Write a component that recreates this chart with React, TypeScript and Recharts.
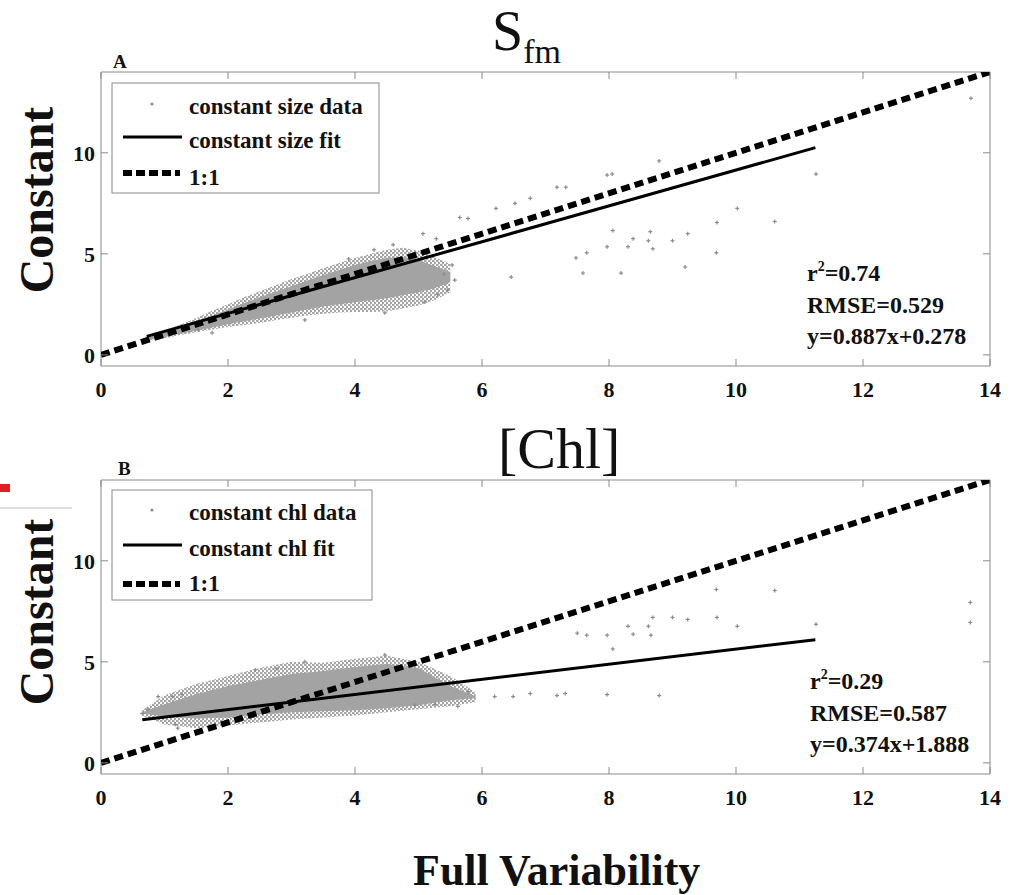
import React from 'react';
import { ComposedChart, Area, Scatter, XAxis, YAxis, ReferenceArea } from 'recharts';

const xTicks = [0, 2, 4, 6, 8, 10, 12, 14];
const yTicks = [0, 5, 10];
const X_DOMAIN: [number, number] = [0, 14];
const Y_DOMAIN: [number, number] = [-0.55, 14];

// Panel A: constant size. The point cloud is read as an outer (sparse) and a core (dense) envelope.
const sizeCloudX = [0.7, 1.0, 1.25, 1.5, 1.75, 2.0, 2.25, 2.5, 2.75, 3.0, 3.25, 3.5, 3.75, 4.0, 4.25, 4.5, 4.75, 5.0, 5.25, 5.5];
const sizeOuterLow = [0.66, 0.82, 0.98, 1.12, 1.26, 1.38, 1.48, 1.58, 1.72, 1.84, 1.95, 2.04, 2.1, 2.12, 2.12, 2.15, 2.3, 2.45, 2.7, 3.1];
const sizeOuterHigh = [0.9, 1.2, 1.5, 1.82, 2.18, 2.5, 2.85, 3.15, 3.45, 3.75, 4.0, 4.3, 4.55, 4.8, 5.0, 5.2, 5.3, 5.15, 4.85, 4.5];
const sizeCoreLow = [0.7, 0.88, 1.04, 1.2, 1.36, 1.52, 1.66, 1.8, 1.95, 2.1, 2.25, 2.4, 2.5, 2.6, 2.7, 2.8, 2.95, 3.1, 3.3, 3.6];
const sizeCoreHigh = [0.86, 1.12, 1.38, 1.65, 1.95, 2.25, 2.55, 2.85, 3.12, 3.4, 3.68, 3.95, 4.2, 4.45, 4.65, 4.8, 4.85, 4.7, 4.4, 4.1];
const sizePoints: [number, number][] = [
  [5.07, 6.0], [5.28, 5.75], [5.65, 6.8], [5.78, 6.75], [6.22, 7.25], [6.52, 7.5], [6.76, 7.75],
  [7.18, 8.3], [7.32, 8.3], [7.97, 8.9], [8.05, 8.95], [8.79, 9.6], [11.26, 8.95], [13.7, 12.7],
  [10.02, 7.25], [10.61, 6.6], [9.7, 6.55], [9.24, 6.0], [9.0, 5.65], [8.65, 6.1], [8.62, 5.65],
  [8.38, 5.75], [8.69, 5.25], [8.3, 5.35], [8.06, 6.15], [7.97, 5.35], [7.65, 5.05], [7.48, 4.8],
  [7.59, 4.05], [8.19, 4.05], [9.2, 4.35], [9.69, 5.05], [6.46, 3.85], [1.53, 1.24], [1.75, 1.09],
  [3.21, 1.73], [4.47, 2.08], [5.1, 2.62], [5.46, 3.2], [5.53, 4.45], [5.57, 3.7], [4.3, 5.2],
  [4.6, 5.45], [3.9, 4.75], [5.3, 3.0], [5.4, 4.0],
];
const sizeFit = { slope: 0.887, intercept: 0.278, from: 0.72, to: 11.25 };
const sizeLegend = ['constant size data', 'constant size fit', '1:1'];
const sizeStats = { r2: '0.74', rmse: '0.529', eq: 'y=0.887x+0.278' };

// Panel B: constant chl
const chlCloudX = [0.65, 1.0, 1.5, 2.0, 2.5, 3.0, 3.5, 4.0, 4.5, 5.0, 5.5, 5.9];
const chlOuterLow = [2.35, 1.9, 1.72, 1.85, 2.0, 2.15, 2.25, 2.35, 2.5, 2.65, 2.8, 3.0];
const chlOuterHigh = [2.6, 3.35, 3.9, 4.3, 4.7, 5.0, 4.95, 5.15, 5.3, 5.0, 4.3, 3.5];
const chlCoreLow = [2.45, 2.3, 2.2, 2.25, 2.4, 2.5, 2.55, 2.6, 2.7, 2.85, 3.1, 3.2];
const chlCoreHigh = [2.5, 2.9, 3.4, 3.8, 4.1, 4.4, 4.55, 4.75, 4.9, 4.7, 3.8, 3.3];
const chlPoints: [number, number][] = [
  [0.65, 2.45], [0.74, 2.65], [0.9, 3.28], [1.13, 3.28], [1.28, 3.38], [1.17, 1.91], [1.21, 1.72],
  [2.43, 4.6], [2.77, 4.66], [3.21, 5.0], [4.47, 5.34], [4.94, 2.85], [5.26, 2.9], [5.62, 2.8],
  [5.78, 3.53], [6.2, 3.28], [6.49, 3.28], [6.76, 3.43], [7.18, 3.33], [7.31, 3.43], [7.97, 3.38],
  [8.79, 3.33], [8.06, 5.64], [7.5, 6.42], [7.65, 6.32], [7.97, 6.32], [8.3, 6.76], [8.38, 6.37],
  [8.62, 6.76], [8.66, 6.32], [8.69, 7.2], [9.0, 7.2], [9.24, 7.1], [9.7, 7.2], [9.69, 8.58],
  [10.02, 6.76], [10.61, 8.53], [11.26, 6.86], [13.69, 7.94], [13.69, 6.95],
];
const chlFit = { slope: 0.374, intercept: 1.888, from: 0.65, to: 11.25 };
const chlLegend = ['constant chl data', 'constant chl fit', '1:1'];
const chlStats = { r2: '0.29', rmse: '0.587', eq: 'y=0.374x+1.888' };

const oneToOne = [0, 14];

const W = 1019;
const CHART_H = 406;
const MARGIN = { top: 72, right: 29, bottom: 0, left: 61 };
const PLOT_W = 889;
const PLOT_H = 294;
const AXIS = '#8a8a8a';
const SERIF = '"Liberation Serif", "Times New Roman", serif';

const BottomTick = (props: any) => {
  const { x, y, payload, plotHeight } = props;
  return (
    <g>
      <line x1={x} y1={y} x2={x} y2={y - 7} stroke={AXIS} />
      <line x1={x} y1={y - plotHeight} x2={x} y2={y - plotHeight + 7} stroke={AXIS} />
      <text x={x} y={y + 31} textAnchor="middle" fontFamily={SERIF} fontWeight="bold" fontSize={22} fill="#111">
        {payload.value}
      </text>
    </g>
  );
};

const LeftTick = (props: any) => {
  const { x, y, payload, plotWidth } = props;
  return (
    <g>
      <line x1={x} y1={y} x2={x + 7} y2={y} stroke={AXIS} />
      <line x1={x + plotWidth} y1={y} x2={x + plotWidth - 7} y2={y} stroke={AXIS} />
      <text x={x - 6} y={y} dy="0.36em" textAnchor="end" fontFamily={SERIF} fontWeight="bold" fontSize={22} fill="#111">
        {payload.value}
      </text>
    </g>
  );
};

const PlusMark = (props: any) => {
  const { cx, cy } = props;
  return (
    <g stroke="#8c8c8c" strokeWidth={1.2}>
      <line x1={cx - 2} y1={cy} x2={cx + 2} y2={cy} />
      <line x1={cx} y1={cy - 2} x2={cx} y2={cy + 2} />
    </g>
  );
};

const NoMark = () => <g />;

interface PanelProps {
  top: number;
  xs: number[];
  outerLow: number[];
  outerHigh: number[];
  coreLow: number[];
  coreHigh: number[];
  points: [number, number][];
  fit: { slope: number; intercept: number; from: number; to: number };
}

const Panel = ({ top, xs, outerLow, outerHigh, coreLow, coreHigh, points, fit }: PanelProps) => {
  const cloud = xs.map((x, i) => ({ x, outer: [outerLow[i], outerHigh[i]], core: [coreLow[i], coreHigh[i]] }));
  const pts = points.map(([x, y]) => ({ x, y }));
  const diag = oneToOne.map((v) => ({ x: v, y: v }));
  const fitPts = [fit.from, fit.to].map((x) => ({ x, y: fit.slope * x + fit.intercept }));
  return (
    <div style={{ position: 'absolute', left: 0, top }}>
      <ComposedChart width={W} height={CHART_H} data={cloud} margin={MARGIN}>
        <XAxis
          type="number"
          dataKey="x"
          domain={X_DOMAIN}
          ticks={xTicks}
          interval={0}
          height={40}
          axisLine={false}
          tickLine={false}
          tickSize={0}
          tickMargin={0}
          allowDataOverflow
          tick={<BottomTick plotHeight={PLOT_H} />}
        />
        <YAxis
          type="number"
          dataKey="y"
          domain={Y_DOMAIN}
          ticks={yTicks}
          interval={0}
          width={40}
          axisLine={false}
          tickLine={false}
          tickSize={0}
          tickMargin={0}
          allowDataOverflow
          tick={<LeftTick plotWidth={PLOT_W} />}
        />
        <ReferenceArea
          x1={X_DOMAIN[0]}
          x2={X_DOMAIN[1]}
          y1={Y_DOMAIN[0]}
          y2={Y_DOMAIN[1]}
          fill="none"
          fillOpacity={0}
          stroke={AXIS}
          strokeWidth={1}
          ifOverflow="visible"
        />
        <Area dataKey="outer" type="linear" stroke="none" fill="url(#speckle)" fillOpacity={1} dot={false} activeDot={false} isAnimationActive={false} />
        <Area dataKey="core" type="linear" stroke="none" fill="#a3a3a3" fillOpacity={1} dot={false} activeDot={false} isAnimationActive={false} />
        <Scatter data={pts} shape={PlusMark} fill="#8c8c8c" isAnimationActive={false} />
        <Scatter
          data={diag}
          shape={NoMark}
          fill="#000"
          line={{ stroke: '#000', strokeWidth: 6, strokeDasharray: '9 5' }}
          isAnimationActive={false}
        />
        <Scatter data={fitPts} shape={NoMark} fill="#000" line={{ stroke: '#000', strokeWidth: 3 }} isAnimationActive={false} />
      </ComposedChart>
    </div>
  );
};

const LegendBox = ({ x, y, w, labels, ys }: { x: number; y: number; w: number; labels: string[]; ys: number[] }) => (
  <g fontFamily={SERIF} fontWeight="bold" fontSize={23} fill="#111">
    <rect x={x} y={y} width={w} height={110} fill="#fff" stroke={AXIS} />
    <circle cx={x + 40} cy={ys[0] - 10} r={1.6} fill="#8c8c8c" />
    <text x={x + 77} y={ys[0]}>{labels[0]}</text>
    <line x1={x + 11} y1={ys[1] - 11} x2={x + 70} y2={ys[1] - 11} stroke="#000" strokeWidth={3} />
    <text x={x + 77} y={ys[1]}>{labels[1]}</text>
    <line x1={x + 11} y1={ys[3]} x2={x + 68} y2={ys[3]} stroke="#000" strokeWidth={6} strokeDasharray="9 4" />
    <text x={x + 77} y={ys[2]}>{labels[2]}</text>
  </g>
);

const Stats = ({ x, y, s }: { x: number; y: number; s: { r2: string; rmse: string; eq: string } }) => (
  <g fontFamily={SERIF} fontWeight="bold" fontSize={24} fill="#111">
    <text x={x} y={y}>
      r<tspan fontSize={14} dy={-10}>2</tspan>
      <tspan dy={10}>={s.r2}</tspan>
    </text>
    <text x={x} y={y + 32}>RMSE={s.rmse}</text>
    <text x={x} y={y + 63}>{s.eq}</text>
  </g>
);

export default function App() {
  return (
    <div style={{ position: 'absolute', left: 0, top: 0, width: W, height: 895, background: '#fff', overflow: 'hidden' }}>
      <svg width={0} height={0} style={{ position: 'absolute' }}>
        <defs>
          <pattern id="speckle" width={4} height={4} patternUnits="userSpaceOnUse">
            <rect x={0} y={0} width={2.5} height={2} fill="#a6a6a6" />
            <rect x={2} y={2} width={2} height={2} fill="#a6a6a6" />
          </pattern>
        </defs>
      </svg>
      <Panel
        top={0}
        xs={sizeCloudX}
        outerLow={sizeOuterLow}
        outerHigh={sizeOuterHigh}
        coreLow={sizeCoreLow}
        coreHigh={sizeCoreHigh}
        points={sizePoints}
        fit={sizeFit}
      />
      <Panel
        top={408}
        xs={chlCloudX}
        outerLow={chlOuterLow}
        outerHigh={chlOuterHigh}
        coreLow={chlCoreLow}
        coreHigh={chlCoreHigh}
        points={chlPoints}
        fit={chlFit}
      />
      <svg width={W} height={895} style={{ position: 'absolute', left: 0, top: 0, pointerEvents: 'none' }}>
        <rect x={0} y={484} width={10} height={8} fill="#e02020" />
        <line x1={0} y1={508} x2={72} y2={508} stroke="#bbb" />
        <text x={492} y={50} fontFamily={SERIF} fontSize={56} fill="#111">
          S<tspan fontSize={34} dy={13}>fm</tspan>
        </text>
        <text x={498} y={468} fontFamily={SERIF} fontSize={58} fill="#111">[Chl]</text>
        <text x={113} y={68} fontFamily={SERIF} fontWeight="bold" fontSize={19} fill="#111">A</text>
        <text x={118} y={475} fontFamily={SERIF} fontWeight="bold" fontSize={19} fill="#111">B</text>
        <LegendBox x={112} y={83} w={267} labels={sizeLegend} ys={[114, 148, 185, 173]} />
        <LegendBox x={112} y={490} w={260} labels={chlLegend} ys={[520, 556, 591, 584]} />
        <Stats x={807} y={281} s={sizeStats} />
        <Stats x={810} y={689} s={chlStats} />
        <text transform="translate(53,200) rotate(-90)" textAnchor="middle" fontFamily={SERIF} fontWeight="bold" fontSize={48} fill="#111">
          Constant
        </text>
        <text transform="translate(53,612) rotate(-90)" textAnchor="middle" fontFamily={SERIF} fontWeight="bold" fontSize={48} fill="#111">
          Constant
        </text>
        <text x={413} y={885} fontFamily={SERIF} fontWeight="bold" fontSize={44} fill="#111">Full Variability</text>
      </svg>
    </div>
  );
}
